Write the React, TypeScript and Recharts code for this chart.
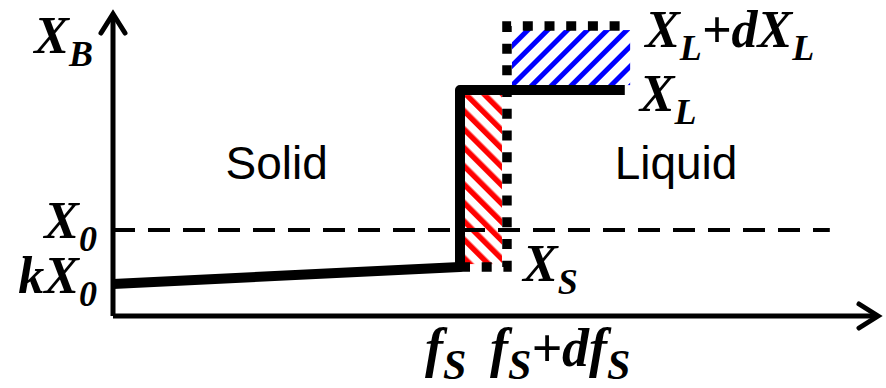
import React from "react";
import {
  ComposedChart,
  XAxis,
  YAxis,
  Line,
  Scatter,
  ReferenceArea,
} from "recharts";

// fraction solid positions (share of the horizontal axis)
const fS = 0.4536;
const dfS = 0.0614;
const fLiquidEnd = 0.669;
const fPatchEnd = 0.676;
const fDashEnd = 0.937;

// compositions (share of the vertical axis)
const X0 = 0.285;
const k = 0.372;
const XS = 0.162;
const XL = 0.748;
const dXL = 0.212;

// solidified profile: sloped solid, jump at the interface, liquid plateau
const profileF = [0, fS, fS, fLiquidEnd];
const profileX = [k * X0, XS, XL, XL];

// profile after the interface advances by dfS
const shiftedF = [fS, fS + dfS, fS + dfS, fPatchEnd];
const shiftedX = [XS, XS, XL + dXL, XL + dXL];

const nominalF = [0, fDashEnd];
const nominalX = [X0, X0];

// axes: y axis up from origin, x axis right from origin
const yAxisF = [0, 0];
const yAxisX = [0, 1];
const xAxisF = [0, 1];
const xAxisX = [0, 0];

const labelNames = ["X_B", "X_0", "kX_0", "X_L+dX_L", "X_L", "X_S", "f_S", "f_S+df_S"];
const labelF = [0, 0, 0, fPatchEnd, fLiquidEnd, fS + dfS, fS, fS + dfS];
const labelX = [1, X0, k * X0, XL + dXL, XL, XS, 0, 0];

const regionNames = ["Solid", "Liquid"];
const regionF = [0.214, 0.736];
const regionX = [0.452, 0.452];

// pixel offset, anchor and [main, subscript] font size per math label
const LABEL_OFFSETS: [number, number, "start" | "end"][] = [
  [-20, 39, "end"],
  [-16, 8, "end"],
  [-16, 9, "end"],
  [15, 21, "start"],
  [15, 21, "start"],
  [16, 14, "start"],
  [-35, 50, "start"],
  [-17, 50, "start"],
];
const LABEL_SIZES: [number, number][] = [
  [52, 36],
  [52, 36],
  [52, 36],
  [52, 36],
  [52, 36],
  [52, 36],
  [54, 42],
  [54, 42],
];

const zip = (fs: number[], xs: number[]) => fs.map((f, i) => ({ f, v: xs[i] }));

const labelRows = labelNames.map((name, i) => ({ f: labelF[i], v: labelX[i], name, i }));
const regionRows = regionNames.map((name, i) => ({ f: regionF[i], v: regionX[i], name }));

const SUB_SHIFT = 13;

function splitMath(s: string) {
  const parts: { t: string; sub: boolean }[] = [];
  let main = "";
  for (let i = 0; i < s.length; i++) {
    if (s[i] === "_") {
      if (main) parts.push({ t: main, sub: false });
      main = "";
      parts.push({ t: s[i + 1], sub: true });
      i++;
    } else {
      main += s[i];
    }
  }
  if (main) parts.push({ t: main, sub: false });
  return parts;
}

function MathLabel(props: any) {
  const { cx, cy, payload } = props;
  const [dx, dy, anchor] = LABEL_OFFSETS[payload.i];
  const [mainSize, subSize] = LABEL_SIZES[payload.i];
  let lowered = false;
  return (
    <text
      x={cx + dx}
      y={cy + dy}
      textAnchor={anchor}
      style={{
        fontFamily: "Liberation Serif, Times New Roman, serif",
        fontStyle: "italic",
        fontWeight: 700,
      }}
      fontSize={mainSize}
      fill="#000"
    >
      {splitMath(payload.name).map((p, j) => {
        let shift = 0;
        if (p.sub && !lowered) {
          shift = SUB_SHIFT;
          lowered = true;
        } else if (!p.sub && lowered) {
          shift = -SUB_SHIFT;
          lowered = false;
        }
        return (
          <tspan key={j} dy={shift} fontSize={p.sub ? subSize : mainSize}>
            {p.t}
          </tspan>
        );
      })}
    </text>
  );
}

function RegionLabel(props: any) {
  const { cx, cy, payload } = props;
  return (
    <text
      x={cx}
      y={cy}
      textAnchor="middle"
      fontFamily="'Liberation Sans', Arial, sans-serif"
      fontSize={46}
      fill="#000"
    >
      {payload.name}
    </text>
  );
}

export default function App() {
  return (
    <div
      style={{
        position: "absolute",
        left: 0,
        top: 0,
        width: 886,
        height: 388,
        background: "#fff",
      }}
    >
      <ComposedChart
        width={886}
        height={388}
        margin={{ top: 14, right: 8, bottom: 72, left: 113 }}
      >
        <defs>
          <pattern
            id="redHatch"
            patternUnits="userSpaceOnUse"
            width={13}
            height={13}
            patternTransform="rotate(-45)"
          >
            <rect x={0} y={0} width={5.5} height={13} fill="#ff0000" />
          </pattern>
          <pattern
            id="blueHatch"
            patternUnits="userSpaceOnUse"
            width={14}
            height={14}
            patternTransform="rotate(45)"
          >
            <rect x={0} y={0} width={5} height={14} fill="#0000ff" />
          </pattern>
          <marker
            id="axisArrow"
            markerUnits="userSpaceOnUse"
            markerWidth={30}
            markerHeight={30}
            refX={24}
            refY={15}
            orient="auto"
            overflow="visible"
          >
            <path
              d="M5 3 L24 15 L5 27"
              fill="none"
              stroke="#000"
              strokeWidth={5}
              strokeLinecap="round"
            />
          </marker>
        </defs>
        <XAxis type="number" dataKey="f" domain={[0, 1]} hide />
        <YAxis type="number" domain={[0, 1]} hide />

        <ReferenceArea
          x1={fS}
          x2={fS + dfS}
          y1={XS}
          y2={XL}
          shape={(p: any) => (
            <rect
              x={p.x + 5}
              y={p.y + 5}
              width={p.width - 10}
              height={p.height - 8}
              fill="url(#redHatch)"
            />
          )}
        />
        <ReferenceArea
          x1={fS + dfS}
          x2={fPatchEnd}
          y1={XL}
          y2={XL + dXL}
          shape={(p: any) => (
            <rect
              x={p.x + 5}
              y={p.y + 4}
              width={p.width - 5}
              height={p.height - 9}
              fill="url(#blueHatch)"
            />
          )}
        />

        <Line
          data={zip(nominalF, nominalX)}
          dataKey="v"
          type="linear"
          stroke="#000"
          strokeWidth={4}
          strokeDasharray="22 13"
          dot={false}
          activeDot={false}
          isAnimationActive={false}
        />
        <Line
          data={zip(shiftedF, shiftedX)}
          dataKey="v"
          type="linear"
          stroke="#000"
          strokeWidth={9.5}
          strokeDasharray="10 11.7"
          dot={false}
          activeDot={false}
          isAnimationActive={false}
        />
        <Line
          data={zip(profileF, profileX)}
          dataKey="v"
          type="linear"
          stroke="#000"
          strokeWidth={10}
          strokeLinejoin="round"
          dot={false}
          activeDot={false}
          isAnimationActive={false}
        />
        <Line
          data={zip(yAxisF, yAxisX)}
          dataKey="v"
          type="linear"
          stroke="#000"
          strokeWidth={5}
          markerEnd="url(#axisArrow)"
          dot={false}
          activeDot={false}
          isAnimationActive={false}
        />
        <Line
          data={zip(xAxisF, xAxisX)}
          dataKey="v"
          type="linear"
          stroke="#000"
          strokeWidth={5}
          markerEnd="url(#axisArrow)"
          dot={false}
          activeDot={false}
          isAnimationActive={false}
        />

        <Scatter
          data={labelRows}
          dataKey="v"
          shape={MathLabel}
          isAnimationActive={false}
        />
        <Scatter
          data={regionRows}
          dataKey="v"
          shape={RegionLabel}
          isAnimationActive={false}
        />
      </ComposedChart>
    </div>
  );
}
